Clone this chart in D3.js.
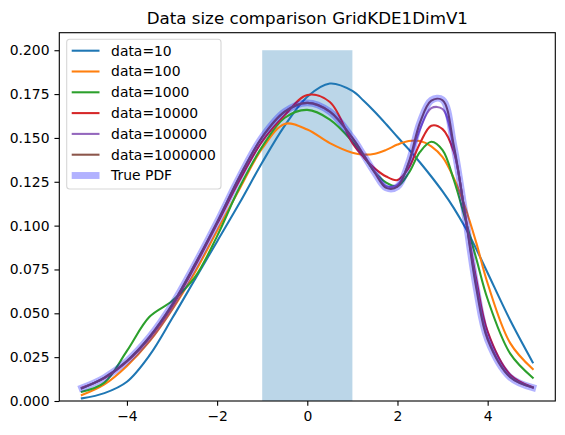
<!DOCTYPE html>
<html>
<head>
<meta charset="utf-8">
<script src="https://cdn.jsdelivr.net/npm/d3@7"></script>
<style>
  body { margin: 0; background: #fff; }
  svg { font-family: "DejaVu Sans", sans-serif; }
</style>
</head>
<body>
<div id="chart"></div>
<script>
// sample positions along x
var xGrid = [-5, -4.5, -4, -3.5, -3, -2.5, -2, -1.5, -1, -0.5, 0, 0.5, 1, 1.25, 1.5, 1.75, 2, 2.25, 2.5, 2.75, 3, 3.25, 3.5, 3.75, 4, 4.5, 5];

var d10      = [0.0015, 0.0045, 0.0110, 0.0260, 0.0470, 0.0690, 0.0910, 0.1130, 0.1360, 0.1570, 0.1735, 0.1810, 0.1768, 0.1712, 0.1648, 0.1578, 0.1505, 0.1435, 0.1360, 0.1280, 0.1195, 0.1100, 0.0990, 0.0865, 0.0730, 0.0460, 0.0220];
var d100     = [0.0034, 0.0095, 0.0200, 0.0340, 0.0520, 0.0730, 0.0970, 0.1210, 0.1440, 0.1580, 0.1548, 0.1470, 0.1415, 0.1405, 0.1410, 0.1432, 0.1462, 0.1482, 0.1482, 0.1452, 0.1390, 0.1270, 0.1106, 0.0900, 0.0670, 0.0330, 0.0182];
var d1000    = [0.0053, 0.0105, 0.0286, 0.0480, 0.0570, 0.0703, 0.0940, 0.1220, 0.1450, 0.1615, 0.1660, 0.1605, 0.1480, 0.1395, 0.1305, 0.1245, 0.1225, 0.1300, 0.1420, 0.1478, 0.1430, 0.1260, 0.1040, 0.0810, 0.0580, 0.0270, 0.0133];
var d10000   = [0.0075, 0.0130, 0.0225, 0.0360, 0.0540, 0.0765, 0.1010, 0.1260, 0.1480, 0.1630, 0.1745, 0.1705, 0.1470, 0.1390, 0.1325, 0.1280, 0.1260, 0.1330, 0.1470, 0.1570, 0.1550, 0.1420, 0.1060, 0.0690, 0.0395, 0.0150, 0.0078];
var d100000  = [0.0073, 0.0133, 0.0228, 0.0365, 0.0548, 0.0775, 0.1020, 0.1280, 0.1505, 0.1650, 0.1700, 0.1650, 0.1500, 0.1405, 0.1305, 0.1225, 0.1232, 0.1355, 0.1550, 0.1670, 0.1665, 0.1440, 0.1065, 0.0660, 0.0362, 0.0138, 0.0077];
var d1000000 = [0.0072, 0.0133, 0.0228, 0.0365, 0.0548, 0.0775, 0.1020, 0.1280, 0.1505, 0.1650, 0.1700, 0.1650, 0.1500, 0.1402, 0.1300, 0.1215, 0.1222, 0.1360, 0.1588, 0.1712, 0.1715, 0.1455, 0.1060, 0.0640, 0.0350, 0.0135, 0.0077];
var truePdf  = [0.0074, 0.0133, 0.0228, 0.0365, 0.0548, 0.0775, 0.1020, 0.1280, 0.1505, 0.1650, 0.1700, 0.1650, 0.1500, 0.1402, 0.1300, 0.1215, 0.1222, 0.1360, 0.1590, 0.1715, 0.1718, 0.1455, 0.1060, 0.0640, 0.0350, 0.0135, 0.0076];

// uniform block drawn as a bar
var barRange = [-1, 1];
var barHeight = 0.2;

var xTicks = [-4, -2, 0, 2, 4];
var yTicks = [0, 0.025, 0.05, 0.075, 0.1, 0.125, 0.15, 0.175, 0.2];

var seriesNames = ["data=10", "data=100", "data=1000", "data=10000", "data=100000", "data=1000000"];
var seriesValues = [d10, d100, d1000, d10000, d100000, d1000000];
var colors = ["#1f77b4", "#ff7f0e", "#2ca02c", "#d62728", "#9467bd", "#8c564b"];

var svg = d3.select("#chart").append("svg")
    .attr("width", 565)
    .attr("height", 435);

var margin = { top: 32.7, right: 9.7, bottom: 34, left: 59.3 },
    width = 565 - margin.left - margin.right,
    height = 435 - margin.top - margin.bottom;

var g = svg.append("g").attr("transform", "translate(" + margin.left + "," + margin.top + ")");

var x = d3.scaleLinear().domain([-5.5, 5.5]).range([0, width]);
var y = d3.scaleLinear().domain([0, 0.21]).range([height, 0]);

svg.append("defs").append("clipPath").attr("id", "clip")
    .append("rect").attr("width", width).attr("height", height);

var plot = g.append("g").attr("clip-path", "url(#clip)");

plot.append("rect")
    .attr("x", x(barRange[0]))
    .attr("y", y(barHeight))
    .attr("width", x(barRange[1]) - x(barRange[0]))
    .attr("height", y(0) - y(barHeight))
    .attr("fill", "#1f77b4")
    .attr("fill-opacity", 0.3);

var line = d3.line()
    .x(function (d) { return x(d[0]); })
    .y(function (d) { return y(d[1]); })
    .curve(d3.curveCatmullRom.alpha(0.5));

seriesValues.forEach(function (vals, i) {
    plot.append("path")
        .attr("d", line(d3.zip(xGrid, vals)))
        .attr("fill", "none")
        .attr("stroke", colors[i])
        .attr("stroke-width", 2.08)
        .attr("stroke-linecap", "square");
});

plot.append("path")
    .attr("d", line(d3.zip(xGrid, truePdf)))
    .attr("fill", "none")
    .attr("stroke", "#0000ff")
    .attr("stroke-opacity", 0.3)
    .attr("stroke-width", 6.94)
    .attr("stroke-linecap", "square");

// axes
var xAxis = g.append("g")
    .attr("transform", "translate(0," + height + ")")
    .call(d3.axisBottom(x).tickValues(xTicks).tickSize(4.86).tickPadding(4.9)
        .tickFormat(function (d) { return d < 0 ? "\u2212" + Math.abs(d) : d; }));

var yAxis = g.append("g")
    .call(d3.axisLeft(y).tickValues(yTicks).tickSize(4.86).tickPadding(4.9).tickFormat(d3.format(".3f")));

[xAxis, yAxis].forEach(function (a) {
    a.selectAll("text").attr("font-size", 13.9).attr("fill", "#000").attr("font-family", "DejaVu Sans");
    a.selectAll("line").attr("stroke", "#000").attr("stroke-width", 1.1);
    a.select(".domain").remove();
});

g.append("rect")
    .attr("width", width)
    .attr("height", height)
    .attr("fill", "none")
    .attr("stroke", "#000")
    .attr("stroke-width", 1.1);

svg.append("text")
    .attr("x", margin.left + width / 2)
    .attr("y", 24)
    .attr("text-anchor", "middle")
    .attr("font-size", 16.7)
    .text("Data size comparison GridKDE1DimV1");

// legend
var legend = svg.append("g").attr("transform", "translate(66.7,39.3)");

legend.append("rect")
    .attr("width", 154.3)
    .attr("height", 149.7)
    .attr("rx", 3)
    .attr("fill", "#fff")
    .attr("fill-opacity", 0.8)
    .attr("stroke", "#cccccc")
    .attr("stroke-opacity", 0.8)
    .attr("stroke-width", 1.1);

var legendItems = seriesNames.map(function (n, i) {
    return { name: n, color: colors[i], width: 2.08, opacity: 1 };
});
legendItems.push({ name: "True PDF", color: "#0000ff", width: 6.94, opacity: 0.3 });

var rows = legend.selectAll("g.item")
    .data(legendItems)
    .enter().append("g")
    .attr("class", "item")
    .attr("transform", function (d, i) { return "translate(0," + (11.4 + i * 20.8) + ")"; });

rows.append("line")
    .attr("x1", 5)
    .attr("x2", 32.8)
    .attr("stroke", function (d) { return d.color; })
    .attr("stroke-width", function (d) { return d.width; })
    .attr("stroke-opacity", function (d) { return d.opacity; });

rows.append("text")
    .attr("x", 44.4)
    .attr("dy", "0.35em")
    .attr("font-size", 13.9)
    .text(function (d) { return d.name; });
</script>
</body>
</html>
